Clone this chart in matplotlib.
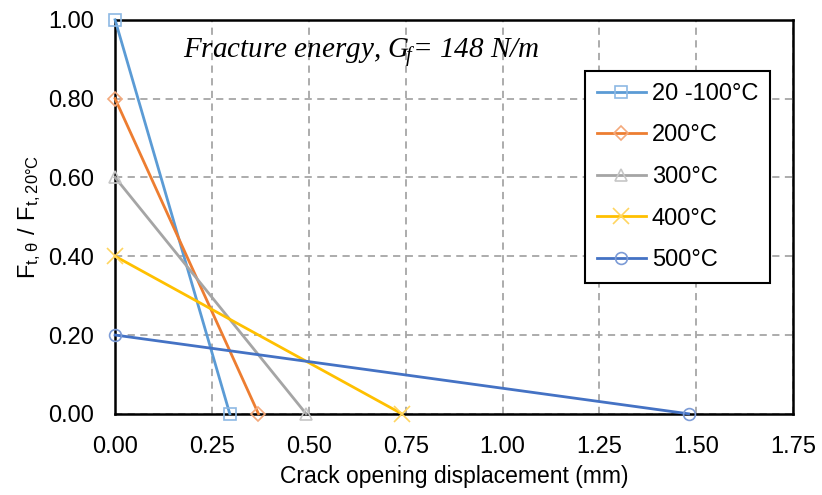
import matplotlib.pyplot as plt

plt.rcParams['font.family'] = ['Liberation Sans', 'DejaVu Sans']

# data: each curve goes from (0, start) to (end, 0)
labels = ['20 -100°C', '200°C', '300°C', '400°C', '500°C']
start_ratio = [1.00, 0.80, 0.60, 0.40, 0.20]
end_cod = [0.296, 0.37, 0.493, 0.74, 1.48]
colors = ['#5B9BD5', '#ED7D31', '#A5A5A5', '#FFC000', '#4472C4']
marker_edge = ['#8DB9E4', '#F4A97B', '#C6C6C6', '#FFD560', '#7C9BD6']
markers = ['s', 'D', '^', 'x', 'o']
msizes = [8.5, 7, 8.5, 11, 8.5]

x_ticks = [0.00, 0.25, 0.50, 0.75, 1.00, 1.25, 1.50, 1.75]
y_ticks = [0.00, 0.20, 0.40, 0.60, 0.80, 1.00]

fig = plt.figure(figsize=(8.22, 4.95), dpi=100)
ax = fig.add_axes([0.14, 0.164, 0.825, 0.796])

for lab, y0, x1, c, mc, m, ms in zip(labels, start_ratio, end_cod, colors,
                                     marker_edge, markers, msizes):
    ax.plot([0, x1], [y0, 0], color=c, lw=2, marker=m, ms=ms,
            mfc='none' if m != 'x' else mc, mec=mc, mew=1.2,
            label=lab, clip_on=False, zorder=3)

ax.set_xlim(0, 1.75)
ax.set_ylim(0, 1.0)
ax.set_xticks(x_ticks)
ax.set_yticks(y_ticks)
ax.set_xticklabels([f'{v:.2f}' for v in x_ticks])
ax.set_yticklabels([f'{v:.2f}' for v in y_ticks])
ax.tick_params(length=0, labelsize=17)
ax.tick_params(axis='y', pad=15)
ax.tick_params(axis='x', pad=16)
ax.grid(True, color='#A6A6A6', ls=(0, (4, 3)), lw=1.3)
for s in ax.spines.values():
    s.set_linewidth(1.8)
    s.set_color('black')

ax.set_xlabel('Crack opening displacement (mm)', fontsize=16.5, labelpad=5)
ax.set_ylabel(r'$\mathregular{F_{t,\theta}\ /\ F_{t,20°C}}$', fontsize=17, labelpad=4)

ax.text(0.10, 0.918, r'Fracture energy, $\mathregular{G_{\!f}}$= 148 N/m',
        transform=ax.transAxes, fontsize=21, style='italic',
        family='Liberation Serif', va='center')

leg = ax.legend(loc='upper right', bbox_to_anchor=(0.966, 0.87), fontsize=17,
                frameon=True, fancybox=False, edgecolor='black',
                handlelength=2.1, labelspacing=0.83, borderpad=0.5,
                handletextpad=0.25, borderaxespad=0)
leg.get_frame().set_linewidth(1.5)
leg.get_frame().set_alpha(1)

fig.savefig('out.png', dpi=100)
